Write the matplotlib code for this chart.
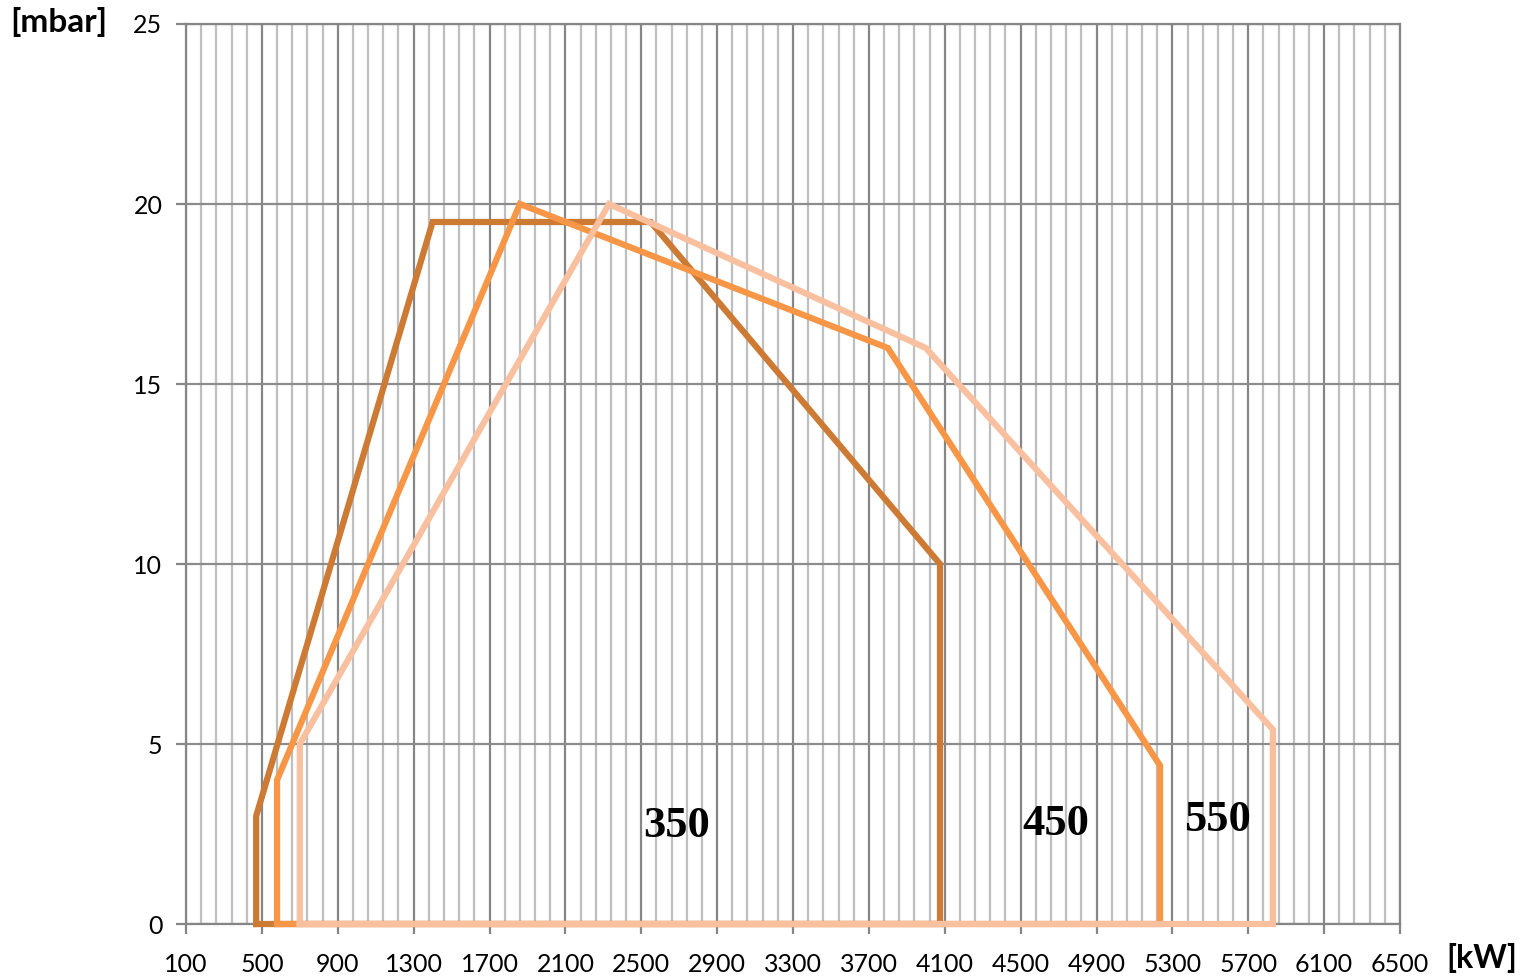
import matplotlib
matplotlib.use('Agg')
import matplotlib.pyplot as plt
import numpy as np

# working fields of the three burner models (kW vs mbar)
x350 = [470, 470, 1400, 2550, 4075, 4075, 470]
y350 = [0, 3, 19.5, 19.5, 10, 0, 0]
x450 = [580, 580, 1860, 3800, 5235, 5235, 580]
y450 = [0, 4, 20, 16, 4.4, 0, 0]
x550 = [700, 700, 2330, 4000, 5830, 5830, 700]
y550 = [0, 5, 20, 16, 5.4, 0, 0]

models = ['350', '450', '550']
label_pos = [(2688, 2.72), (4686, 2.79), (5540, 2.9)]
colours = ['#CD7A35', '#F79646', '#F9C0A0']

xticks = np.arange(100, 6501, 400)
yticks = np.arange(0, 26, 5)

fig = plt.figure(figsize=(15.35, 9.8), dpi=100)
ax = fig.add_axes([186/1535, 56/980, 1214/1535, 900/980])

ax.set_xlim(100, 6500)
ax.set_ylim(0, 25)
ax.set_xticks(xticks)
ax.set_xticks(np.arange(100, 6501, 80), minor=True)
ax.set_yticks(yticks)

ax.grid(which='minor', axis='x', color='#BFBFBF', lw=1.6)
ax.grid(which='major', axis='x', color='#868686', lw=1.6)
ax.grid(which='major', axis='y', color='#8C8C8C', lw=1.6)
ax.set_axisbelow(True)

for s in ax.spines.values():
    s.set_color('#868686')
    s.set_linewidth(1.6)

ax.tick_params(which='minor', length=0)
ax.tick_params(which='major', length=7, width=1.6, color='#868686', direction='out')
ax.tick_params(axis='x', pad=14)
ax.tick_params(axis='y', pad=10)
for lab in ax.get_xticklabels() + ax.get_yticklabels():
    lab.set_family('Lato')
    lab.set_fontsize(18)

for xs, ys, c in zip([x350, x450, x550], [y350, y450, y550], colours):
    ax.plot(xs, ys, color=c, lw=4.5, solid_joinstyle='miter', clip_on=False, zorder=3)

for m, (tx, ty) in zip(models, label_pos):
    ax.text(tx, ty, m, family='Liberation Serif', fontweight='bold', fontsize=32,
            ha='center', va='center', zorder=4)

fig.text(10/1535, 1 - 22/980, '[mbar]', family='Lato', fontweight='bold', fontsize=24,
         ha='left', va='center')
fig.text(1482/1535, 1 - 958/980, '[kW]', family='Lato', fontweight='bold', fontsize=23,
         ha='center', va='center')

fig.savefig('out.png', dpi=100)
